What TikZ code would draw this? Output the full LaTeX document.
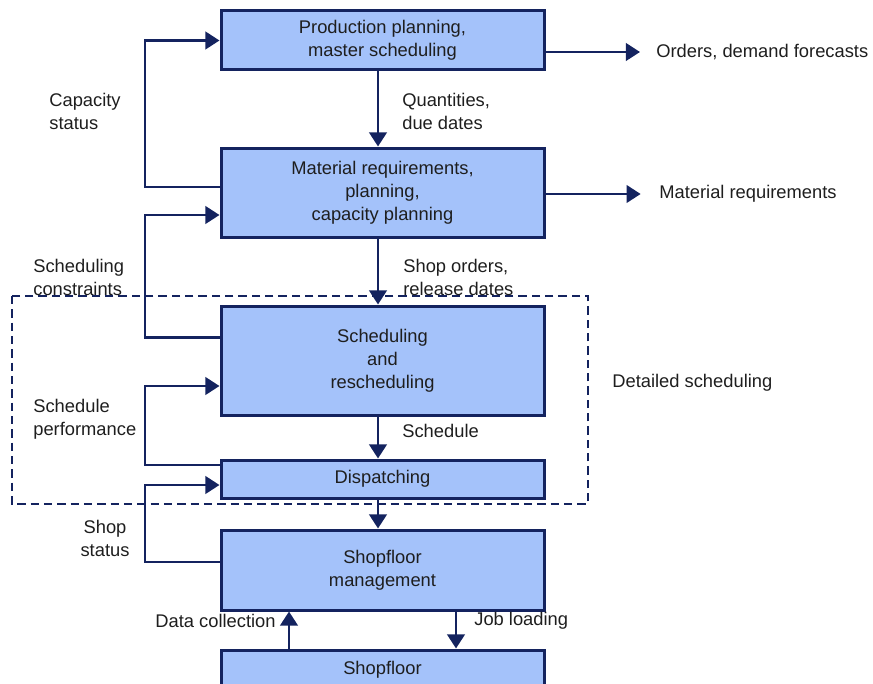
\documentclass[tikz,border=0pt]{standalone}
\usepackage{fontspec}
\setmainfont{Liberation Sans}
\usetikzlibrary{arrows.meta,positioning}
\definecolor{boxfill}{RGB}{164,194,250}
\definecolor{navy}{RGB}{20,35,95}
\definecolor{txt}{RGB}{30,30,30}
\begin{document}
\begin{tikzpicture}
		[x=0.6pt,y=-0.6pt,
		every node/.style={font=\fontsize{11pt}{13.8pt}\selectfont,text=txt},
		stage/.style={draw=navy,fill=boxfill,line width=1.8pt,minimum width=193.8pt,
			align=center,inner sep=0pt},
		flow/.style={draw=navy,line width=1.7pt,-{Triangle[length=8.5pt,width=10.5pt]}},
		lbl/.style={inner sep=0pt,align=left}]
		\useasboundingbox (0,0) rectangle (873,684);
		\node[stage,minimum height=35.4pt] (plan) at (382.5,40.5) {Production planning,\\master scheduling};
		\node[stage,minimum height=53.4pt] (mrp) at (382.5,192.5) {Material requirements,\\planning,\\capacity planning};
		\node[stage,minimum height=65.4pt] (sched) at (382.5,360.5) {Scheduling\\and\\rescheduling};
		\node[stage,minimum height=22.8pt] (disp) at (382.5,479) {Dispatching};
		\node[stage,minimum height=48pt] (mgmt) at (382.5,570) {Shopfloor\\management};
		\node[stage,minimum height=24pt] (floor) at (382.5,670) {Shopfloor};
		\draw[navy,line width=0.8pt,dash pattern=on 5pt off 3pt] (12,296) rectangle (588,504);
		\coordinate (rail) at (145,0);
		\node[lbl,anchor=west] (orders) at (656,52) {Orders, demand forecasts};
		\node[lbl,anchor=west] (matreq) at (659,194) {Material requirements};
		\node[lbl,anchor=west] at (49,111.5) {Capacity\\status};
		\node[lbl,anchor=west] at (402,111.5) {Quantities,\\due dates};
		\node[lbl,anchor=west] at (33,277.5) {Scheduling\\constraints};
		\node[lbl,anchor=west] at (403,277.5) {Shop orders,\\release dates};
		\node[lbl,anchor=west] at (33,419) {Schedule\\performance};
		\node[lbl,anchor=west] at (402,431) {Schedule};
		\node[lbl,align=center] at (105,538.5) {Shop\\status};
		\node[lbl,anchor=west] at (612,383) {Detailed scheduling};
		\node[lbl,anchor=east] at (276,621) {Data collection};
		\node[lbl,anchor=west] at (474,621) {Job loading};
		\draw[flow] ([xshift=-2.7pt]plan.south) -- ([xshift=-2.7pt]mrp.north);
		\draw[flow] ([xshift=-2.7pt]mrp.south) -- ([xshift=-2.7pt]sched.north);
		\draw[flow] ([xshift=-2.7pt]sched.south) -- ([xshift=-2.7pt]disp.north);
		\draw[flow] ([xshift=-2.7pt]disp.south) -- ([xshift=-2.7pt]mgmt.north);
		\draw[flow] ([xshift=44.1pt]mgmt.south) -- ([xshift=44.1pt]floor.north);
		\draw[flow] ([xshift=-56.1pt]floor.north) -- ([xshift=-56.1pt]mgmt.south);
		\draw[flow] (plan.east |- orders.west) -- ([xshift=-9.6pt]orders.west);
		\draw[flow] (mrp.east |- matreq.west) -- ([xshift=-11pt]matreq.west);
		\draw[flow] ([yshift=3.3pt]mrp.west) -- ([yshift=3.3pt]mrp.west -| rail) |- (plan.west);
		\draw[flow] ([yshift=14pt]sched.west) -- ([yshift=14pt]sched.west -| rail) |- ([yshift=-13.5pt]mrp.west);
		\draw[flow] ([yshift=8.4pt]disp.west) -- ([yshift=8.4pt]disp.west -| rail) |- ([yshift=-15.3pt]sched.west);
		\draw[flow] ([yshift=4.8pt]mgmt.west) -- ([yshift=4.8pt]mgmt.west -| rail) |- ([yshift=-3.6pt]disp.west);
	\end{tikzpicture}
\end{document}
